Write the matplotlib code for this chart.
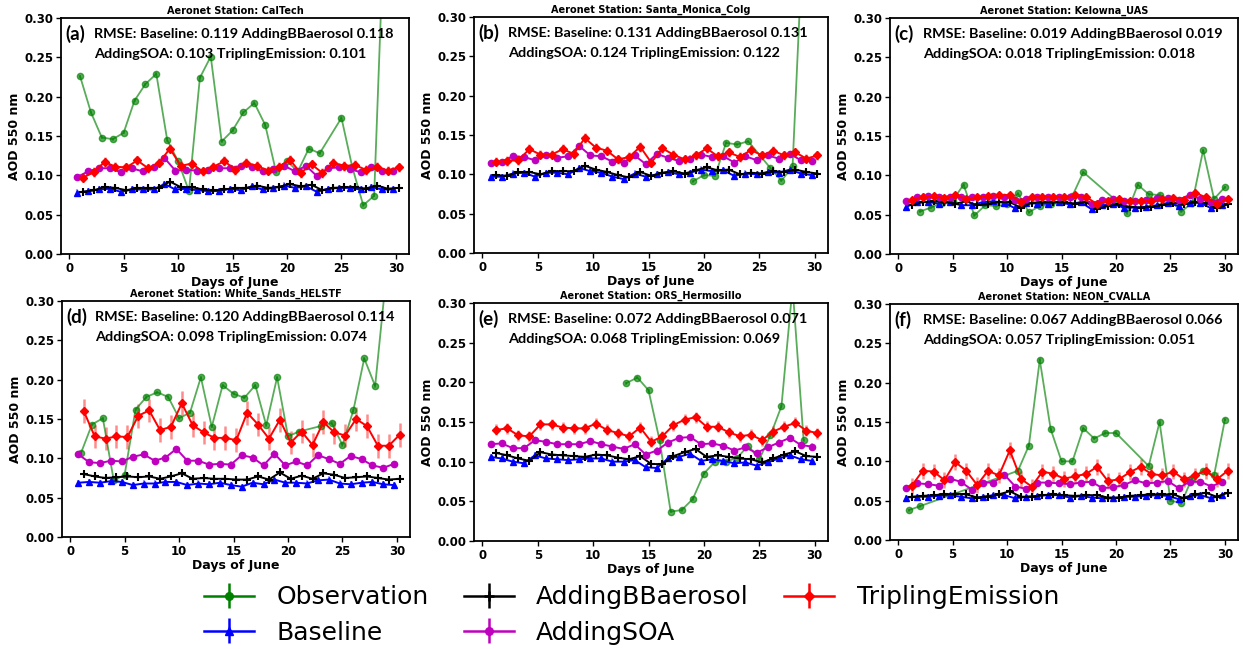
import numpy as np
import matplotlib.pyplot as plt

days = np.arange(1, 31)

stations = ['CalTech', 'Santa_Monica_Colg', 'Kelowna_UAS',
            'White_Sands_HELSTF', 'ORS_Hermosillo', 'NEON_CVALLA']
panel_tags = ['(a)', '(b)', '(c)', '(d)', '(e)', '(f)']
rmse_base = ['0.119', '0.131', '0.019', '0.120', '0.072', '0.067']
rmse_bb = ['0.118', '0.131', '0.019', '0.114', '0.071', '0.066']
rmse_soa = ['0.103', '0.124', '0.018', '0.098', '0.068', '0.057']
rmse_trip = ['0.101', '0.122', '0.018', '0.074', '0.069', '0.051']

N = None
obs_a = [0.226, 0.180, 0.148, 0.146, 0.154, 0.195, 0.216, 0.229, 0.145, 0.118,
         0.080, 0.224, 0.251, 0.143, 0.157, 0.180, 0.192, 0.164, 0.104, 0.118,
         0.105, 0.134, 0.128, N, 0.173, 0.110, 0.062, 0.074, 0.45, N]
base_a = [0.078, 0.080, 0.082, 0.083, 0.079, 0.082, 0.082, 0.082, 0.089, 0.082,
          0.083, 0.081, 0.080, 0.080, 0.083, 0.081, 0.086, 0.082, 0.084, 0.087,
          0.084, 0.086, 0.079, 0.083, 0.084, 0.084, 0.082, 0.085, 0.082, 0.082]
bb_a = [0.079, 0.081, 0.085, 0.084, 0.081, 0.084, 0.084, 0.084, 0.092, 0.085,
        0.085, 0.082, 0.081, 0.082, 0.084, 0.084, 0.087, 0.084, 0.085, 0.089,
        0.086, 0.088, 0.081, 0.084, 0.085, 0.085, 0.083, 0.087, 0.083, 0.084]
soa_a = [0.098, 0.105, 0.109, 0.109, 0.104, 0.109, 0.105, 0.110, 0.122, 0.106,
         0.107, 0.106, 0.107, 0.109, 0.109, 0.112, 0.111, 0.105, 0.108, 0.112,
         0.105, 0.112, 0.099, 0.109, 0.110, 0.108, 0.104, 0.110, 0.105, 0.106]
trip_a = [0.097, 0.104, 0.117, 0.111, 0.110, 0.119, 0.109, 0.116, 0.134, 0.112,
          0.115, 0.105, 0.111, 0.118, 0.107, 0.116, 0.112, 0.106, 0.111, 0.120,
          0.103, 0.114, 0.103, 0.116, 0.112, 0.113, 0.107, 0.111, 0.106, 0.110]

obs_b = [N, N, N, N, N, N, N, N, N, N,
         N, N, N, N, N, N, N, N, 0.091, 0.099,
         0.098, 0.140, 0.138, 0.142, N, 0.108, 0.092, 0.110, 0.42, N]
base_b = [0.097, 0.097, 0.101, 0.102, 0.097, 0.102, 0.102, 0.100, 0.108, 0.104,
          0.102, 0.097, 0.094, 0.101, 0.097, 0.100, 0.103, 0.100, 0.102, 0.106,
          0.104, 0.105, 0.098, 0.101, 0.100, 0.103, 0.102, 0.106, 0.101, 0.099]
bb_b = [0.099, 0.098, 0.103, 0.103, 0.100, 0.104, 0.104, 0.104, 0.111, 0.106,
        0.103, 0.099, 0.096, 0.103, 0.098, 0.102, 0.104, 0.101, 0.105, 0.109,
        0.105, 0.106, 0.100, 0.102, 0.101, 0.104, 0.103, 0.106, 0.103, 0.101]
soa_b = [0.114, 0.116, 0.123, 0.122, 0.118, 0.124, 0.121, 0.123, 0.136, 0.124,
         0.123, 0.116, 0.115, 0.124, 0.113, 0.126, 0.121, 0.117, 0.120, 0.125,
         0.122, 0.123, 0.115, 0.123, 0.118, 0.124, 0.120, 0.126, 0.118, 0.117]
trip_b = [0.116, 0.117, 0.118, 0.132, 0.125, 0.125, 0.132, 0.126, 0.146, 0.134,
          0.130, 0.119, 0.122, 0.135, 0.115, 0.133, 0.125, 0.119, 0.124, 0.133,
          0.123, 0.128, 0.122, 0.131, 0.124, 0.130, 0.124, 0.128, 0.120, 0.124]

obs_c = [N, 0.054, 0.059, 0.065, 0.068, 0.088, 0.049, 0.062, 0.061, 0.063,
         0.077, 0.053, 0.061, 0.063, 0.066, 0.074, 0.104, N, N, 0.068,
         0.052, 0.088, 0.076, 0.075, 0.068, 0.054, 0.065, 0.132, 0.070, 0.085]
base_c = [0.060, 0.066, 0.066, 0.064, 0.066, 0.062, 0.062, 0.066, 0.067, 0.065,
          0.058, 0.065, 0.064, 0.064, 0.066, 0.063, 0.066, 0.057, 0.062, 0.063,
          0.059, 0.059, 0.060, 0.062, 0.065, 0.061, 0.065, 0.065, 0.058, 0.062]
bb_c = [0.062, 0.066, 0.067, 0.066, 0.064, 0.067, 0.062, 0.064, 0.066, 0.066,
        0.059, 0.065, 0.066, 0.066, 0.066, 0.064, 0.066, 0.057, 0.061, 0.063,
        0.060, 0.059, 0.060, 0.062, 0.065, 0.063, 0.066, 0.065, 0.058, 0.063]
soa_c = [0.067, 0.072, 0.074, 0.073, 0.073, 0.073, 0.072, 0.073, 0.074, 0.073,
         0.069, 0.070, 0.073, 0.073, 0.072, 0.073, 0.073, 0.064, 0.069, 0.070,
         0.068, 0.068, 0.069, 0.071, 0.071, 0.069, 0.075, 0.070, 0.066, 0.070]
trip_c = [0.069, 0.073, 0.074, 0.071, 0.075, 0.070, 0.072, 0.074, 0.075, 0.075,
          0.066, 0.072, 0.073, 0.073, 0.072, 0.075, 0.073, 0.063, 0.068, 0.070,
          0.067, 0.067, 0.068, 0.070, 0.071, 0.069, 0.078, 0.072, 0.064, 0.070]

obs_d = [0.107, 0.143, 0.151, 0.072, 0.079, 0.162, 0.178, 0.184, 0.178, 0.151,
         0.158, 0.203, 0.140, 0.193, 0.182, 0.177, 0.193, 0.142, 0.203, 0.128,
         0.134, N, 0.141, 0.145, 0.117, 0.161, 0.227, 0.192, 0.33, N]
base_d = [0.069, 0.070, 0.069, 0.071, 0.070, 0.066, 0.068, 0.068, 0.070, 0.070,
          0.066, 0.068, 0.067, 0.069, 0.066, 0.064, 0.069, 0.067, 0.073, 0.069,
          0.069, 0.068, 0.072, 0.073, 0.068, 0.067, 0.069, 0.070, 0.067, 0.066]
bb_d = [0.080, 0.077, 0.075, 0.076, 0.077, 0.076, 0.077, 0.074, 0.077, 0.081,
        0.074, 0.075, 0.074, 0.074, 0.073, 0.073, 0.077, 0.073, 0.082, 0.074,
        0.078, 0.074, 0.081, 0.079, 0.075, 0.076, 0.077, 0.075, 0.073, 0.074]
soa_d = [0.105, 0.095, 0.094, 0.097, 0.096, 0.102, 0.105, 0.097, 0.101, 0.112,
         0.097, 0.097, 0.092, 0.093, 0.092, 0.104, 0.101, 0.091, 0.106, 0.091,
         0.096, 0.091, 0.104, 0.099, 0.093, 0.103, 0.099, 0.091, 0.088, 0.093]
trip_d = [0.160, 0.128, 0.125, 0.128, 0.127, 0.154, 0.161, 0.136, 0.140, 0.170,
          0.142, 0.133, 0.126, 0.126, 0.123, 0.158, 0.143, 0.125, 0.149, 0.120,
          0.134, 0.117, 0.146, 0.133, 0.129, 0.150, 0.141, 0.116, 0.116, 0.130]

obs_e = [N, N, N, N, N, N, N, N, N, N,
         N, N, 0.199, 0.206, 0.190, 0.127, 0.037, 0.039, 0.053, 0.085,
         0.100, 0.100, 0.105, 0.120, 0.103, 0.133, 0.170, 0.32, 0.127, N]
base_e = [0.106, 0.104, 0.100, 0.098, 0.108, 0.104, 0.103, 0.102, 0.103, 0.104,
          0.104, 0.100, 0.100, 0.102, 0.093, 0.092, 0.104, 0.106, 0.110, 0.101,
          0.103, 0.101, 0.098, 0.099, 0.095, 0.099, 0.104, 0.108, 0.103, 0.101]
bb_e = [0.111, 0.108, 0.104, 0.101, 0.112, 0.109, 0.108, 0.107, 0.106, 0.109,
        0.108, 0.105, 0.103, 0.107, 0.097, 0.097, 0.107, 0.112, 0.116, 0.106,
        0.108, 0.106, 0.104, 0.103, 0.099, 0.104, 0.109, 0.113, 0.107, 0.106]
soa_e = [0.122, 0.123, 0.117, 0.117, 0.127, 0.125, 0.122, 0.122, 0.122, 0.126,
         0.122, 0.119, 0.116, 0.122, 0.109, 0.114, 0.124, 0.130, 0.131, 0.122,
         0.123, 0.120, 0.114, 0.118, 0.111, 0.118, 0.124, 0.130, 0.121, 0.119]
trip_e = [0.140, 0.142, 0.133, 0.132, 0.147, 0.147, 0.143, 0.142, 0.142, 0.148,
          0.140, 0.136, 0.132, 0.143, 0.125, 0.132, 0.146, 0.153, 0.156, 0.144,
          0.144, 0.137, 0.132, 0.134, 0.127, 0.138, 0.144, 0.149, 0.139, 0.136]

obs_f = [0.038, 0.043, N, N, N, N, N, N, N, N,
         0.088, 0.120, 0.229, 0.141, 0.100, 0.100, 0.142, 0.129, 0.136, 0.136,
         N, N, 0.094, 0.150, 0.050, 0.047, 0.079, 0.088, 0.082, 0.153]
base_f = [0.054, 0.055, 0.055, 0.056, 0.057, 0.055, 0.053, 0.055, 0.057, 0.057,
          0.053, 0.055, 0.056, 0.057, 0.057, 0.054, 0.056, 0.054, 0.053, 0.053,
          0.055, 0.055, 0.056, 0.057, 0.056, 0.052, 0.056, 0.057, 0.053, 0.057]
bb_f = [0.055, 0.056, 0.057, 0.058, 0.059, 0.058, 0.054, 0.055, 0.058, 0.062,
        0.055, 0.055, 0.057, 0.058, 0.057, 0.056, 0.057, 0.057, 0.054, 0.054,
        0.056, 0.057, 0.058, 0.058, 0.058, 0.053, 0.058, 0.060, 0.055, 0.060]
soa_f = [0.066, 0.072, 0.071, 0.069, 0.078, 0.074, 0.064, 0.073, 0.073, 0.083,
         0.068, 0.065, 0.073, 0.073, 0.072, 0.071, 0.073, 0.074, 0.066, 0.067,
         0.070, 0.076, 0.072, 0.073, 0.075, 0.066, 0.074, 0.074, 0.068, 0.074]
trip_f = [0.069, 0.088, 0.087, 0.076, 0.099, 0.088, 0.070, 0.088, 0.082, 0.114,
          0.078, 0.068, 0.087, 0.084, 0.078, 0.081, 0.084, 0.093, 0.075, 0.077,
          0.086, 0.093, 0.084, 0.082, 0.087, 0.077, 0.082, 0.088, 0.077, 0.088]

# spread of the model ensemble (std), one value per panel
err_model = [0.004, 0.004, 0.003, 0.004, 0.004, 0.003]
err_trip = [0.006, 0.006, 0.004, 0.015, 0.007, 0.010]

obs_all = [obs_a, obs_b, obs_c, obs_d, obs_e, obs_f]
base_all = [base_a, base_b, base_c, base_d, base_e, base_f]
bb_all = [bb_a, bb_b, bb_c, bb_d, bb_e, bb_f]
soa_all = [soa_a, soa_b, soa_c, soa_d, soa_e, soa_f]
trip_all = [trip_a, trip_b, trip_c, trip_d, trip_e, trip_f]

fig = plt.figure(figsize=(12.43, 6.49), dpi=100)
# axes boxes in pixels: left, bottom(from top), width, height
boxes = [(61, 254, 348, 236), (474, 253, 354, 236), (890, 254, 348, 236),
         (62, 537, 348, 236), (474, 541, 354, 238), (890, 540, 348, 236)]
W, H = 1243., 649.

txtfont = ['Lato', 'DejaVu Sans']

for k in range(6):
    l, b, w, h = boxes[k]
    ax = fig.add_axes([l / W, 1 - b / H, w / W, h / H])

    obs = obs_all[k]
    od = [d for d, v in zip(days, obs) if v is not None]
    ov = [v for v in obs if v is not None]

    e_obs = ax.errorbar(od, ov, yerr=0.002, color='green', marker='o', ms=4.5,
                        lw=1.3, elinewidth=1.5, ecolor=(0, 0.5, 0, 0.4))
    e_obs[0].set_alpha(0.65)
    ax.errorbar(days - 0.25, base_all[k], yerr=err_model[k], color='blue',
                marker='^', ms=4.5, lw=1.4, elinewidth=1.5, ecolor=(0, 0, 1, 0.35))
    ax.errorbar(days + 0.25, bb_all[k], yerr=err_model[k], color='black',
                marker='+', ms=6, mew=1.5, lw=1.4, elinewidth=1.5,
                ecolor=(0, 0, 0, 0.35))
    ax.errorbar(days - 0.25, soa_all[k], yerr=err_model[k], color='m',
                marker='o', ms=4.5, lw=1.4, elinewidth=1.5,
                ecolor=(0.75, 0, 0.75, 0.35))
    ax.errorbar(days + 0.25, trip_all[k], yerr=err_trip[k], color='red',
                marker='D', ms=4.5, lw=1.4, elinewidth=1.8, ecolor=(1, 0, 0, 0.45))

    ax.set_xlim(-0.75, 31.2)
    ax.set_ylim(0, 0.30)
    ax.set_xticks([0, 5, 10, 15, 20, 25, 30])
    ax.set_yticks([0.0, 0.05, 0.10, 0.15, 0.20, 0.25, 0.30])
    ax.set_yticklabels(['0.00', '0.05', '0.10', '0.15', '0.20', '0.25', '0.30'])
    for t in ax.get_xticklabels() + ax.get_yticklabels():
        t.set_fontweight('bold')
        t.set_fontsize(8.5)
    ax.tick_params(length=3.5, width=1, pad=2)
    for s in ax.spines.values():
        s.set_linewidth(1.3)
    ax.set_xlabel('Days of June', fontsize=9, fontweight='bold', labelpad=1)
    ax.set_ylabel('AOD 550 nm', fontsize=9, fontweight='bold', labelpad=2)
    ax.set_title('Aeronet Station: ' + stations[k], fontsize=7, fontweight='bold', pad=3)

    ax.text(0.012, 0.932, panel_tags[k], transform=ax.transAxes, fontsize=13.5,
            fontweight='bold', family=txtfont, va='center')
    ax.text(0.095, 0.932, 'RMSE: Baseline: %s AddingBBaerosol %s' % (rmse_base[k], rmse_bb[k]),
            transform=ax.transAxes, fontsize=10.4, fontweight='bold',
            family=txtfont, va='center')
    ax.text(0.095, 0.847, 'AddingSOA: %s TriplingEmission: %s' % (rmse_soa[k], rmse_trip[k]),
            transform=ax.transAxes, fontsize=10.4, fontweight='bold',
            family=txtfont, va='center')

# legend proxies with solid error bar colours
lax = fig.axes[0]
nan = [np.nan]
handles = [
    lax.errorbar(nan, nan, yerr=nan, color='green', marker='o', ms=5.5, lw=1.8, elinewidth=1.8),
    lax.errorbar(nan, nan, yerr=nan, color='blue', marker='^', ms=5.5, lw=1.8, elinewidth=1.8),
    lax.errorbar(nan, nan, yerr=nan, color='black', marker='+', ms=7, mew=1.8, lw=1.8, elinewidth=1.8),
    lax.errorbar(nan, nan, yerr=nan, color='m', marker='o', ms=5.5, lw=1.8, elinewidth=1.8),
    lax.errorbar(nan, nan, yerr=nan, color='red', marker='D', ms=5.5, lw=1.8, elinewidth=1.8),
]
labels = ['Observation', 'Baseline', 'AddingBBaerosol', 'AddingSOA', 'TriplingEmission']
fig.legend(handles, labels, loc='center', bbox_to_anchor=(0.508, 0.0524),
           ncol=3, fontsize=18, frameon=False, handlelength=2.0, columnspacing=1.4,
           handletextpad=0.9, labelspacing=0.45)

fig.savefig('out.png', dpi=100)
